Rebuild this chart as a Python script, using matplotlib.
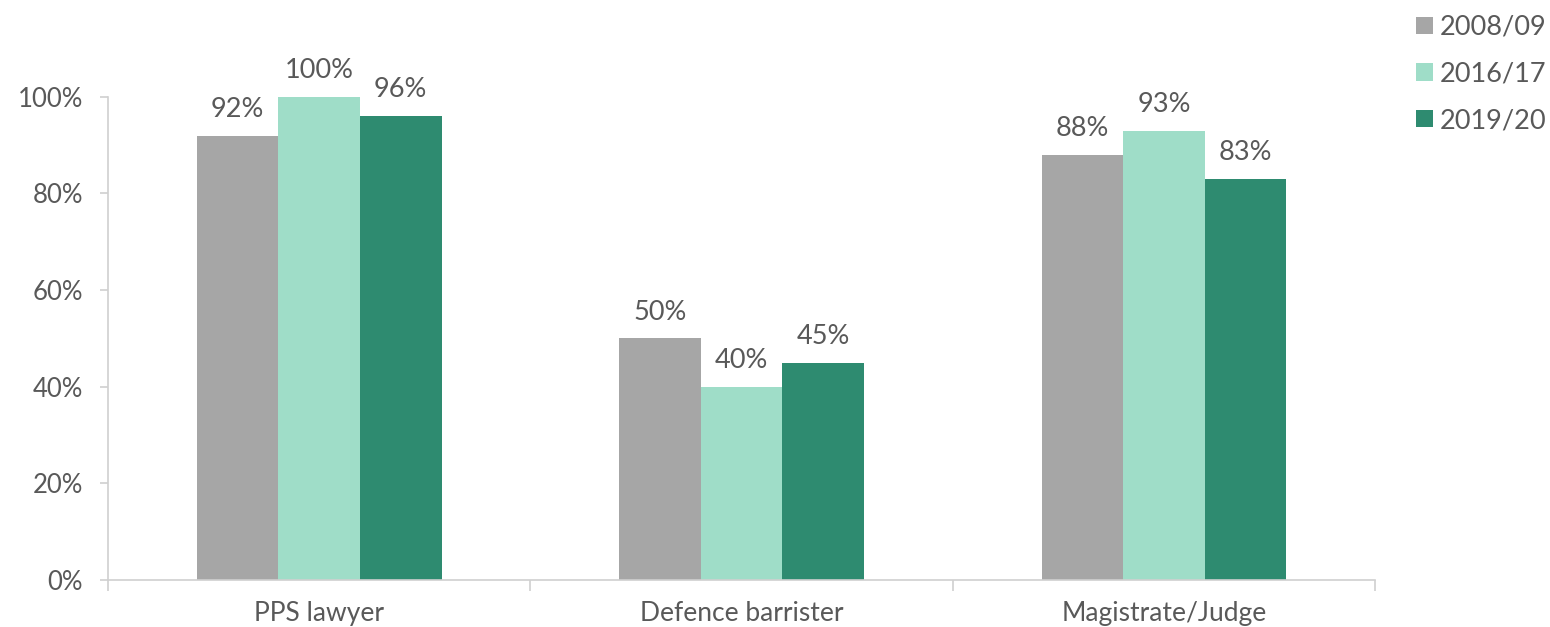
import numpy as np
import matplotlib.pyplot as plt

# survey results by role and year
roles = ['PPS lawyer', 'Defence barrister', 'Magistrate/Judge']
years = ['2008/09', '2016/17', '2019/20']
pct_0809 = [92, 50, 88]
pct_1617 = [100, 40, 93]
pct_1920 = [96, 45, 83]

colors = ['#A6A6A6', '#9FDDC8', '#2E8B70']
text_col = '#595959'
axis_col = '#D0D0D0'

plt.rcParams['font.family'] = ['Lato', 'DejaVu Sans']

fig = plt.figure(figsize=(15.5, 6.27), dpi=100)
ax = fig.add_axes([0.0697, 0.075, 0.8175, 0.7705])

x = np.arange(len(roles))
w = 0.193
for i, (vals, yr) in enumerate(zip([pct_0809, pct_1617, pct_1920], years)):
    pos = x + (i - 1) * w
    bars = ax.bar(pos, vals, width=w, color=colors[i], label=yr)
    for b, v in zip(bars, vals):
        ax.annotate(f'{v}%', (b.get_x() + b.get_width() / 2, v),
                    xytext=(0, 10), textcoords='offset points',
                    ha='center', va='bottom', fontsize=19.5, color=text_col)

ax.set_xlim(-0.5, len(roles) - 0.5)
ax.set_ylim(0, 100)
ax.set_yticks(range(0, 101, 20))
ax.set_yticklabels([f'{t}%' for t in range(0, 101, 20)])
ax.set_xticks(x)
ax.set_xticklabels(roles)
ax.set_xticks(np.arange(-0.5, len(roles), 1), minor=True)

ax.tick_params(axis='x', which='major', length=0, pad=15, labelsize=19, labelcolor=text_col)
ax.tick_params(axis='x', which='minor', length=8, color=axis_col, width=1.2)
ax.tick_params(axis='y', length=6, color=axis_col, width=1.2, pad=12, labelsize=18.5, labelcolor=text_col)

for s in ['top', 'right']:
    ax.spines[s].set_visible(False)
for s in ['left', 'bottom']:
    ax.spines[s].set_color(axis_col)
    ax.spines[s].set_linewidth(1.2)

fig.legend(loc='upper left', bbox_to_anchor=(0.898, 1.015), frameon=False,
           fontsize=19.5, labelcolor=text_col, handlelength=0.6, handleheight=0.6,
           handletextpad=0.25, labelspacing=0.8)

fig.savefig('out.png', dpi=100)
